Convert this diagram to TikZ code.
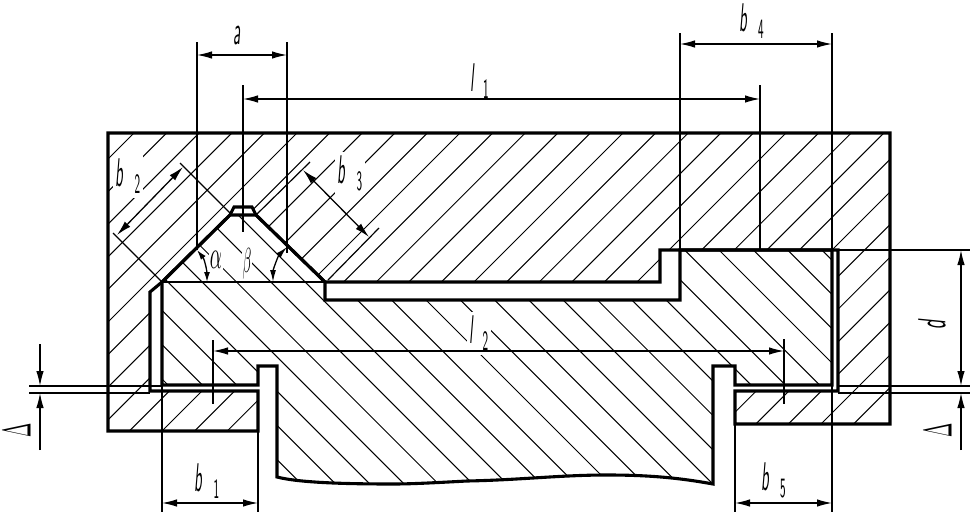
\documentclass[tikz,border=0pt]{standalone}
\usepackage{tikz}
\usepackage{xcolor}
\usetikzlibrary{arrows.meta}

\tikzset{
  thickline/.style={line width=3.1pt, line join=miter},
  hatchline/.style={line width=1pt},
  extline/.style={line width=1.2pt},
  dimline/.style={line width=1.3pt, <->},
  dimlabel/.style={fill=white, inner xsep=2pt, inner ysep=1pt, xscale=1.5, yscale=4, font=\sffamily},
}
\newcommand{\lettersub}[3][7pt]{\textit{#2}\hspace{#1}\raisebox{-1.8pt}{\scriptsize\upshape #3}}
\newcommand{\diepath}{(108,133) -- (890,133) -- (890,424) -- (735,424) -- (735,391) -- (838,391) -- (838,250) -- (660,250) -- (660,282) -- (325,282) -- (256,215) -- (252,207) -- (234,207) -- (230,215) -- (162,282) -- (150,292) -- (150,391) -- (258,391) -- (258,431) -- (108,431) -- cycle}
\newcommand{\wavepath}{(713,484) .. controls (680,478) and (650,475) .. (607,475) .. controls (560,475) and (520,480) .. (467,481) .. controls (430,483) and (410,484) .. (393,484) .. controls (350,484) and (300,483) .. (277,477)}
\newcommand{\punchpath}{(162,282) -- (230,215) -- (256,215) -- (325,282) -- (325,300) -- (680,300) -- (680,250) -- (832,250) -- (832,385) -- (735,385) -- (735,366) -- (713,366) -- \wavepath -- (277,366) -- (258,366) -- (258,385) -- (162,385) -- cycle}

\begin{document}
\begin{tikzpicture}[x=1pt, y=-1pt, >={Latex[length=15pt,width=7.5pt]}]
  \useasboundingbox (0,0) rectangle (972,514);

  % Hatching of the die
  \begin{scope}
    \clip \diepath;
    \foreach \k in {0,...,31}
      \draw[hatchline] ({267+32.6*\k-500},500) -- ({267+32.6*\k},0);
  \end{scope}

  % Hatching of the punch
  \begin{scope}
    \clip \punchpath;
    \foreach \k in {0,...,23}
      \draw[hatchline] ({-217+34.3*\k+100},100) -- ({-217+34.3*\k+500},500);
  \end{scope}

  % Labels, their white ground breaks the hatching
  \node[dimlabel] (lblA) at (237,35) {\textit{a}};
  \node[dimlabel] (lblLone) at (479.5,81.5) {\lettersub[5.5pt]{l}{1}};
  \node[dimlabel] (lblBfour) at (751.5,21.5) {\lettersub{b}{4}};
  \node[dimlabel] (lblBtwo) at (128,176.5) {\lettersub{b}{2}};
  \node[dimlabel] (lblBthree) at (350,173.5) {\lettersub{b}{3}};
  \node[dimlabel] (lblLtwo) at (479,333.5) {\lettersub[5.5pt]{l}{2}};
  \node[dimlabel] (lblBone) at (207,481.5) {\lettersub{b}{1}};
  \node[dimlabel] (lblBfive) at (773.5,480.5) {\lettersub{b}{5}};
  \node[dimlabel, inner sep=0.5pt, xscale=1.25, yscale=1, font=\normalsize] (lblAlpha) at (216,260) {$\alpha$};
  \node[dimlabel, inner sep=0.5pt, xscale=0.95, yscale=0.87, font=\normalsize] (lblBeta) at (247,264) {$\beta$};
  \node[inner sep=0pt, font=\sffamily\itshape, rotate=90, xscale=1.8, yscale=3.9] (lblD) at (932,325) {d};
  \node[inner sep=0pt, rotate=90, xscale=1.7, yscale=4] (lblDeltaL) at (17,430) {$\Delta$};
  \node[inner sep=0pt, rotate=90, xscale=1.7, yscale=4] (lblDeltaR) at (938,430) {$\Delta$};

  % Extension lines
  \draw[extline] (197,42) -- (197,250);
  \draw[extline] (287,42) -- (287,253);
  \draw[extline] (243,85) -- (243,232);
  \draw[extline] (680,33) -- (680,250);
  \draw[extline] (760,85) -- (760,250);
  \draw[extline] (832,33) -- (832,512);
  \draw[extline] (213,340) -- (213,404);
  \draw[extline] (784,339) -- (784,404);
  \draw[extline] (162,282) -- (162,512);
  \draw[extline] (258,431) -- (258,512);
  \draw[extline] (735,424) -- (735,512);
  \draw[extline] (832,250) -- (970,250);
  \draw[extline] (29,386) -- (162,386);
  \draw[extline] (29,393) -- (150,393);
  \draw[extline] (838,386) -- (970,386);
  \draw[extline] (838,393) -- (970,393);
  \draw[extline] (180,163) -- (232,215);
  \draw[extline] (113,233) -- (162,282);
  \draw[extline] (310,162) -- (256,215);
  \draw[extline] (379,228) -- (328,280);
  \draw[extline] (162,282) -- (325,282);

  % Dimension lines
  \draw[dimline] (197,55) -- (287,55);
  \draw[dimline] (243,99) -- (760,99);
  \draw[dimline] (680,44) -- (832,44);
  \draw[dimline] (213,351) -- (784,351);
  \draw[dimline] (162,503) -- (258,503);
  \draw[dimline] (735,503) -- (832,503);
  \draw[dimline] (961,250) -- (961,386);
  \draw[dimline] (183,167) -- (117,235);
  \draw[dimline] (303,170) -- (369,237);
  \draw[extline, ->] (40,344) -- (40,386);
  \draw[extline, ->] (40,450) -- (40,393);
  \draw[extline, ->] (961,450) -- (961,393);

  % Angle arcs
  \draw[dimline, >={Latex[length=10pt,width=6pt]}] (197,250) .. controls (205,260) and (207,272) .. (207,282);
  \draw[dimline, >={Latex[length=12pt,width=6pt]}] (287,247) .. controls (278,256) and (273,270) .. (273,282);

  % Outlines of die and punch
  \draw[thickline] \diepath;
  \draw[thickline] \punchpath;
\end{tikzpicture}
\end{document}
